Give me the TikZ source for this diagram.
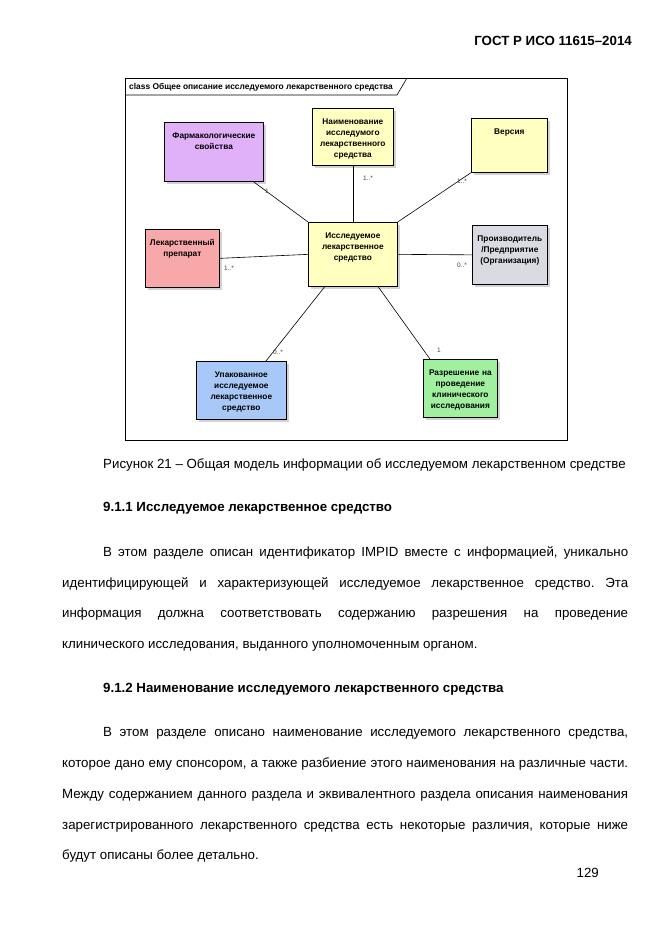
\documentclass[tikz,border=0pt]{standalone}
\usepackage{fontspec}
\setmainfont{Liberation Sans}
\usetikzlibrary{shadows}
\frenchspacing

\definecolor{umlyellow}{RGB}{255,255,192}
\definecolor{umlviolet}{RGB}{224,176,248}
\definecolor{umlrose}{RGB}{248,168,168}
\definecolor{umlblue}{RGB}{168,200,248}
\definecolor{umlgreen}{RGB}{160,240,160}
\definecolor{umlgray}{RGB}{218,218,226}

\tikzset{
  cls/.style={draw, line width=0.7pt, anchor=north west, inner xsep=0pt, inner ysep=0pt,
    align=center, font=\fontsize{8.3}{11}\selectfont\bfseries, text height=16.5pt,
    drop shadow={shadow xshift=2.5pt, shadow yshift=-2.5pt, fill=black!35}},
  mult/.style={font=\fontsize{6.5}{7}\selectfont, text=black!75, inner sep=0pt},
  assoc/.style={line width=0.6pt},
  body/.style={anchor=base west, inner sep=0pt, font=\fontsize{13.3}{15}\selectfont},
  head/.style={anchor=base west, inner sep=0pt, font=\fontsize{13.3}{15}\selectfont\bfseries}
}

\begin{document}
\begin{tikzpicture}[x=1pt, y=-1pt]
    \useasboundingbox (0,0) rectangle (661,935);

    % Page header
    \node[head, anchor=base east] (gost) at (632,45) {ГОСТ Р ИСО 11615–2014};

    % Diagram frame
    \draw[line width=0.8pt] (125,78) rectangle (567,440);
    \draw[line width=0.6pt] (125,95) -- (397,95) -- (407,78);
    \node[anchor=west, inner sep=0pt, font=\fontsize{8.4}{9}\selectfont\bfseries] (frametitle) at (129,87)
        {class Общее описание исследуемого лекарственного средства};

    % Classes
    \node[cls, fill=umlviolet, text width=99pt, text depth=42.5pt] (phar) at (164,122) {Фармакологические\\свойства};
    \node[cls, fill=umlyellow, text width=81pt, text depth=40.5pt] (name) at (312,108) {Наименование\\исследумого\\лекарственного\\средства};
    \node[cls, fill=umlyellow, text width=76pt, text depth=37.5pt] (vers) at (471,118) {Версия};
    \node[cls, fill=umlyellow, text width=89pt, text depth=47.5pt] (imp) at (308,222) {Исследуемое\\лекарственное\\средство};
    \node[cls, fill=umlrose, text width=74pt, text depth=41.5pt] (drug) at (145,229) {Лекарственный\\препарат};
    \node[cls, fill=umlgray, text width=75pt, text depth=42.5pt] (manu) at (472,225) {Производитель\\/Предприятие\\(Организация)};
    \node[cls, fill=umlblue, text width=90pt, text depth=41.5pt] (pack) at (196,361) {Упакованное\\исследуемое\\лекарственное\\средство};
    \node[cls, fill=umlgreen, text width=74pt, text depth=41.5pt] (perm) at (423,359) {Разрешение на\\проведение\\клинического\\исследования};

    % Associations
    \draw[assoc] (phar.-37.7) -- (imp.north west);
    \draw[assoc] (name.south) -- (imp.north);
    \draw[assoc] (vers.south west) -- (imp.north east);
    \draw[assoc] (drug.east) -- (imp.west);
    \draw[assoc] (imp.east) -- (manu.west);
    \draw[assoc] (imp.-131.7) -- (pack.50);
    \draw[assoc] (imp.-52.6) -- (perm.136.9);

    % Multiplicities
    \node[mult] (mphar) at (267,191) {1};
    \node[mult] (mname) at (368,178) {1..*};
    \node[mult] (mvers) at (462,181) {1..*};
    \node[mult] (mdrug) at (229,268) {1..*};
    \node[mult] (mmanu) at (462,265) {0..*};
    \node[mult] (mpack) at (278,352) {0..*};
    \node[mult] (mperm) at (439,350) {1};

    % Caption and text
    \node[body] (caption) at (103,468.5) {Рисунок 21 – Общая модель информации об исследуемом лекарственном средстве};
    \node[head] (sec1) at (103,511.5) {9.1.1 Исследуемое лекарственное средство};
    \node[body] (p1a) at (103,556.5) {\makebox[525pt][s]{В этом разделе описан идентификатор IMPID вместе с информацией, уникально}};
    \node[body] (p1b) at (62,587) {\makebox[566pt][s]{идентифицирующей и характеризующей исследуемое лекарственное средство. Эта}};
    \node[body] (p1c) at (62,617.5) {\makebox[566pt][s]{информация должна соответствовать содержанию разрешения на проведение}};
    \node[body] (p1d) at (62,648) {клинического исследования, выданного уполномоченным органом.};

    \node[head] (sec2) at (103,692.5) {9.1.2 Наименование исследуемого лекарственного средства};
    \node[body] (p2a) at (103,736.5) {\makebox[525pt][s]{В этом разделе описано наименование исследуемого лекарственного средства,}};
    \node[body] (p2b) at (62,767.5) {\makebox[566pt][s]{которое дано ему спонсором, а также разбиение этого наименования на различные части.}};
    \node[body] (p2c) at (62,798.5) {\makebox[566pt][s]{Между содержанием данного раздела и эквивалентного раздела описания наименования}};
    \node[body] (p2d) at (62,829) {\makebox[566pt][s]{зарегистрированного лекарственного средства есть некоторые различия, которые ниже}};
    \node[body] (p2e) at (62,859.5) {будут описаны более детально.};

    % Page number
    \node[body, anchor=base east] (pageno) at (599,877) {129};
\end{tikzpicture}
\end{document}
